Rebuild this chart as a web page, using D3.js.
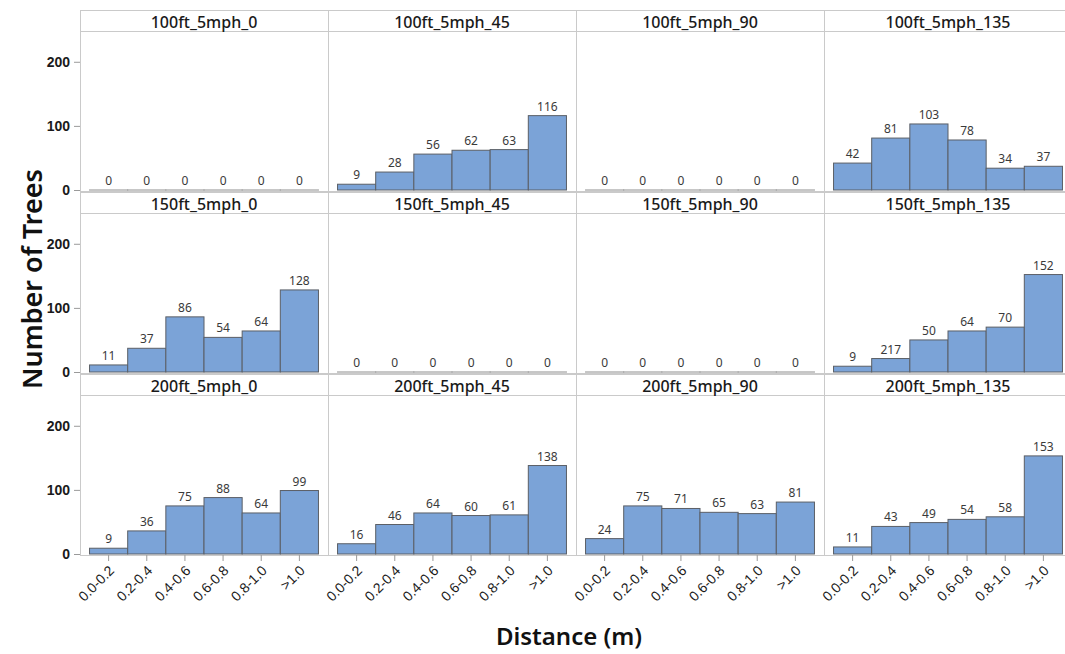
<!DOCTYPE html>
<html>
<head>
<meta charset="utf-8">
<script src="https://cdn.jsdelivr.net/npm/d3@7"></script>
<style>
  body { margin: 0; background: #fff; }
  svg { font-family: "Noto Sans", "Open Sans", sans-serif; }
</style>
</head>
<body>
<div id="my_dataviz"></div>
<script>
// distance bins (x categories)
const bins = ["0.0-0.2", "0.2-0.4", "0.4-0.6", "0.6-0.8", "0.8-1.0", ">1.0"];

// panel titles, row by row
const panelNames = [
  "100ft_5mph_0", "100ft_5mph_45", "100ft_5mph_90", "100ft_5mph_135",
  "150ft_5mph_0", "150ft_5mph_45", "150ft_5mph_90", "150ft_5mph_135",
  "200ft_5mph_0", "200ft_5mph_45", "200ft_5mph_90", "200ft_5mph_135"
];

// tree counts per panel
const counts100_0   = [0, 0, 0, 0, 0, 0];
const counts100_45  = [9, 28, 56, 62, 63, 116];
const counts100_90  = [0, 0, 0, 0, 0, 0];
const counts100_135 = [42, 81, 103, 78, 34, 37];
const counts150_0   = [11, 37, 86, 54, 64, 128];
const counts150_45  = [0, 0, 0, 0, 0, 0];
const counts150_90  = [0, 0, 0, 0, 0, 0];
const counts150_135 = [9, 21, 50, 64, 70, 152];
const counts200_0   = [9, 36, 75, 88, 64, 99];
const counts200_45  = [16, 46, 64, 60, 61, 138];
const counts200_90  = [24, 75, 71, 65, 63, 81];
const counts200_135 = [11, 43, 49, 54, 58, 153];

// the printed label differs from the bar in one place of the original
const labels150_135 = ["9", "217", "50", "64", "70", "152"];

const yTicks = [0, 100, 200];

const panelCounts = [
  counts100_0, counts100_45, counts100_90, counts100_135,
  counts150_0, counts150_45, counts150_90, counts150_135,
  counts200_0, counts200_45, counts200_90, counts200_135
];
const panelLabels = panelCounts.map((c, i) => i === 7 ? labels150_135 : c.map(String));

// layout
const W = 1065, H = 654;
const gridLeft = 80, gridTop = 10;
const colW = 248, headerH = 21, plotH = 159, rowPitch = 182;
const nCols = 4, nRows = 3;
const gridColor = "#cacaca";

const svg = d3.select("#my_dataviz")
  .append("svg")
  .attr("width", W)
  .attr("height", H);

panelNames.forEach(function(name, i) {
  const r = Math.floor(i / nCols), c = i % nCols;
  const x0 = gridLeft + c * colW;
  const hTop = gridTop + r * rowPitch;
  const pTop = hTop + headerH;
  const base = pTop + plotH;

  const x = d3.scaleBand()
    .domain(bins)
    .range([x0, x0 + colW])
    .paddingInner(0)
    .paddingOuter(0.25);

  const y = d3.scaleLinear()
    .domain([0, 248])
    .range([base, pTop]);

  const g = svg.append("g").attr("class", "panel");

  // panel frame and header strip
  g.append("rect")
    .attr("x", x0 + 0.5).attr("y", hTop + 0.5)
    .attr("width", colW).attr("height", headerH + plotH + 1)
    .attr("fill", "none")
    .attr("stroke", gridColor);
  g.append("line")
    .attr("x1", x0).attr("x2", x0 + colW)
    .attr("y1", pTop + 0.5).attr("y2", pTop + 0.5)
    .attr("stroke", gridColor);
  g.append("text")
    .attr("x", x0 + colW / 2)
    .attr("y", hTop + headerH / 2 + 1)
    .attr("text-anchor", "middle")
    .attr("dominant-baseline", "central")
    .attr("font-size", 16)
    .attr("font-weight", 500)
    .attr("fill", "#1a1a1a")
    .text(name);

  // bars
  const data = panelCounts[i].map((v, k) => ({bin: bins[k], v: v, label: panelLabels[i][k]}));
  g.selectAll("rect.bar")
    .data(data)
    .join("rect")
    .attr("class", "bar")
    .attr("x", d => x(d.bin))
    .attr("y", d => y(d.v))
    .attr("width", x.bandwidth())
    .attr("height", d => Math.max(0.01, y(0) - y(d.v)))
    .attr("fill", "#7ba3d7")
    .attr("stroke", d => d.v === 0 ? "#8f8f8f" : "#5b5f66")
    .attr("stroke-width", 1);

  g.selectAll("text.val")
    .data(data)
    .join("text")
    .attr("class", "val")
    .attr("x", d => x(d.bin) + x.bandwidth() / 2)
    .attr("y", d => y(d.v) - 5)
    .attr("text-anchor", "middle")
    .attr("font-size", 12)
    .attr("fill", "#3a3a3a")
    .text(d => d.label);

  // left axis on the first column
  if (c === 0) {
    const ay = g.append("g")
      .attr("transform", `translate(${x0},0)`)
      .call(d3.axisLeft(y).tickValues(yTicks).tickSize(6).tickPadding(4));
    ay.select(".domain").remove();
    ay.selectAll("line").attr("stroke", "#9a9a9a");
    ay.selectAll("text")
      .attr("font-size", 14)
      .attr("font-weight", 600)
      .attr("fill", "#1a1a1a");
  }

  // bottom axis on the last row
  if (r === nRows - 1) {
    const ax = g.append("g")
      .attr("transform", `translate(0,${base + 1})`)
      .call(d3.axisBottom(x).tickSize(6).tickPadding(3));
    ax.select(".domain").remove();
    ax.selectAll("line").attr("stroke", "#9a9a9a");
    ax.selectAll("text")
      .attr("font-size", 14)
      .attr("font-weight", 500)
      .attr("fill", "#1a1a1a")
      .attr("text-anchor", "end")
      .attr("y", 0)
      .attr("dy", "0.35em")
      .attr("transform", "translate(3,13) rotate(-45)");
  }
});

// axis titles
svg.append("text")
  .attr("transform", `translate(31,${gridTop + (nRows * rowPitch) / 2 - 4}) rotate(-90)`)
  .attr("text-anchor", "middle")
  .attr("dominant-baseline", "central")
  .attr("font-size", 27)
  .attr("font-weight", 600)
  .attr("fill", "#111")
  .text("Number of Trees");

svg.append("text")
  .attr("x", gridLeft + 2 * colW - 7)
  .attr("y", 645)
  .attr("text-anchor", "middle")
  .attr("font-size", 24)
  .attr("font-weight", 600)
  .attr("fill", "#111")
  .text("Distance (m)");
</script>
</body>
</html>
